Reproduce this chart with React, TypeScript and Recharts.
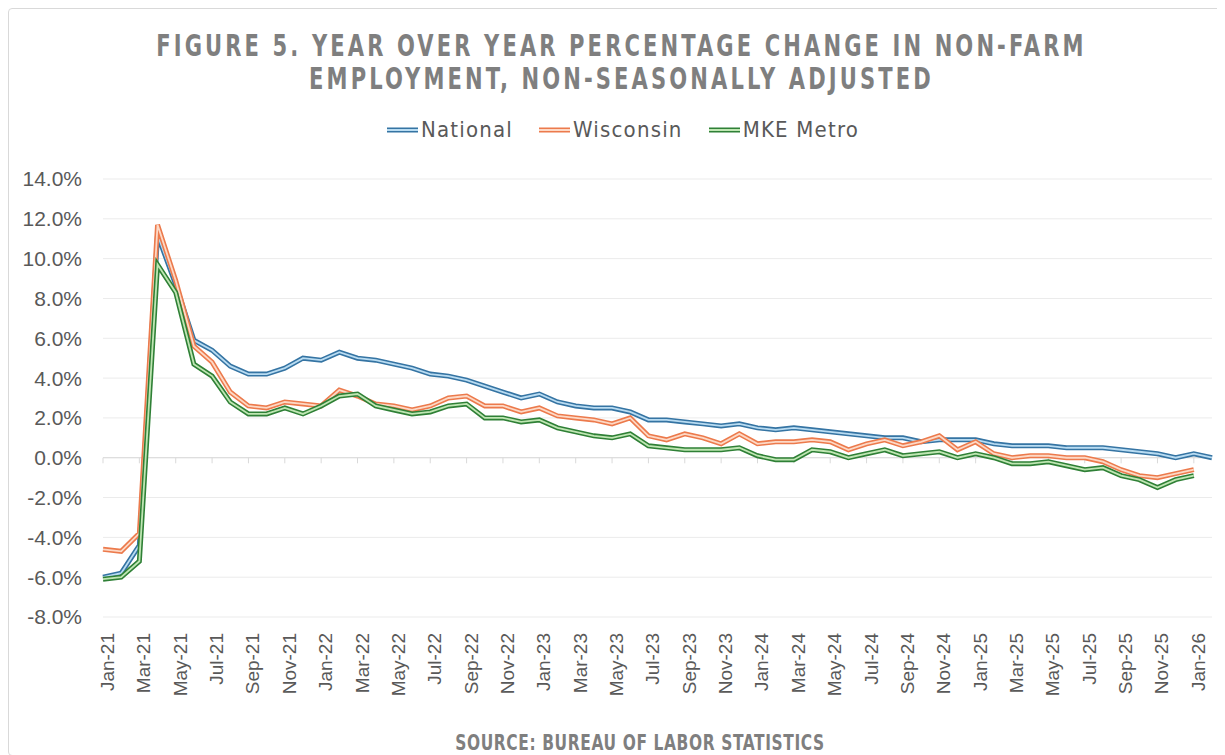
import React from 'react';
import { LineChart, Line, XAxis, YAxis, CartesianGrid, ReferenceLine } from 'recharts';

const months = [
  'Jan-21','Feb-21','Mar-21','Apr-21','May-21','Jun-21','Jul-21','Aug-21','Sep-21','Oct-21','Nov-21','Dec-21',
  'Jan-22','Feb-22','Mar-22','Apr-22','May-22','Jun-22','Jul-22','Aug-22','Sep-22','Oct-22','Nov-22','Dec-22',
  'Jan-23','Feb-23','Mar-23','Apr-23','May-23','Jun-23','Jul-23','Aug-23','Sep-23','Oct-23','Nov-23','Dec-23',
  'Jan-24','Feb-24','Mar-24','Apr-24','May-24','Jun-24','Jul-24','Aug-24','Sep-24','Oct-24','Nov-24','Dec-24',
  'Jan-25','Feb-25','Mar-25','Apr-25','May-25','Jun-25','Jul-25','Aug-25','Sep-25','Oct-25','Nov-25','Dec-25',
  'Jan-26','Feb-26',
];

const national = [
  -6.0, -5.8, -4.4, 11.2, 8.7, 5.9, 5.4, 4.6, 4.2, 4.2, 4.5, 5.0,
  4.9, 5.3, 5.0, 4.9, 4.7, 4.5, 4.2, 4.1, 3.9, 3.6, 3.3, 3.0,
  3.2, 2.8, 2.6, 2.5, 2.5, 2.3, 1.9, 1.9, 1.8, 1.7, 1.6, 1.7,
  1.5, 1.4, 1.5, 1.4, 1.3, 1.2, 1.1, 1.0, 1.0, 0.8, 0.9, 0.9,
  0.9, 0.7, 0.6, 0.6, 0.6, 0.5, 0.5, 0.5, 0.4, 0.3, 0.2, 0.0,
  0.2, 0.0,
];

const wisconsin = [
  -4.6, -4.7, -3.8, 11.7, 8.9, 5.6, 4.8, 3.3, 2.6, 2.5, 2.8, 2.7,
  2.6, 3.4, 3.1, 2.7, 2.6, 2.4, 2.6, 3.0, 3.1, 2.6, 2.6, 2.3,
  2.5, 2.1, 2.0, 1.9, 1.7, 2.0, 1.1, 0.9, 1.2, 1.0, 0.7, 1.2,
  0.7, 0.8, 0.8, 0.9, 0.8, 0.4, 0.7, 0.9, 0.6, 0.8, 1.1, 0.4,
  0.8, 0.2, 0.0, 0.1, 0.1, 0.0, 0.0, -0.2, -0.6, -0.9, -1.0, -0.8,
  -0.6,
];

const mkeMetro = [
  -6.1, -6.0, -5.2, 9.7, 8.3, 4.7, 4.1, 2.8, 2.2, 2.2, 2.5, 2.2,
  2.6, 3.1, 3.2, 2.6, 2.4, 2.2, 2.3, 2.6, 2.7, 2.0, 2.0, 1.8,
  1.9, 1.5, 1.3, 1.1, 1.0, 1.2, 0.6, 0.5, 0.4, 0.4, 0.4, 0.5,
  0.1, -0.1, -0.1, 0.4, 0.3, 0.0, 0.2, 0.4, 0.1, 0.2, 0.3, 0.0,
  0.2, 0.0, -0.3, -0.3, -0.2, -0.4, -0.6, -0.5, -0.9, -1.1, -1.5, -1.1,
  -0.9,
];

const yTicks = [-8, -6, -4, -2, 0, 2, 4, 6, 8, 10, 12, 14];

const seriesList = [
  { key: 'national', name: 'National', color: '#3574a3', inner: '#b9dcf2' },
  { key: 'wisconsin', name: 'Wisconsin', color: '#ec7a4c', inner: '#fdd9c6' },
  { key: 'mke', name: 'MKE Metro', color: '#2f8036', inner: '#bfe6b3' },
];

const data = months.map((m, i) => ({
  month: m,
  national: national[i] ?? null,
  wisconsin: wisconsin[i] ?? null,
  mke: mkeMetro[i] ?? null,
}));

const narrow = '"DejaVu Sans Condensed", "Liberation Sans", sans-serif';
const regular = '"Liberation Sans", Arial, sans-serif';

const XTick = (props: any) => {
  const { x, y, payload } = props;
  return (
    <g transform={`translate(${x},${y})`}>
      <text transform="rotate(-90)" textAnchor="end" dy={11} fill="#595959" fontSize={19} fontFamily={regular}>
        {payload.value}
      </text>
    </g>
  );
};

const fmtPct = (v: number) => `${v.toFixed(1)}%`;

const squeeze: React.CSSProperties = {
  display: 'inline-block',
  transform: 'scaleX(0.78)',
  transformOrigin: 'center',
  whiteSpace: 'nowrap',
};

export default function App() {
  const tickCats = months.filter((_, i) => i % 2 === 0);
  return (
    <div
      style={{
        position: 'relative',
        width: 1218,
        height: 748,
        border: '1px solid #d9d9d9',
        borderRadius: 4,
        boxSizing: 'border-box',
        background: '#fff',
        overflow: 'hidden',
      }}
    >
      <div
        style={{
          position: 'absolute',
          top: 20,
          left: 0,
          width: 1216,
          paddingLeft: 8,
          boxSizing: 'border-box',
          textAlign: 'center',
          fontFamily: narrow,
          fontWeight: 'bold',
          fontSize: 30,
          lineHeight: '33px',
          letterSpacing: 4,
          color: '#7f7f7f',
        }}
      >
        <div><span style={squeeze}>FIGURE 5. YEAR OVER YEAR PERCENTAGE CHANGE IN NON-FARM</span></div>
        <div><span style={squeeze}>EMPLOYMENT, NON-SEASONALLY ADJUSTED</span></div>
      </div>

      <div
        style={{
          position: 'absolute',
          top: 108,
          left: 0,
          width: 1216,
          display: 'flex',
          justifyContent: 'center',
          gap: 26,
          paddingLeft: 12,
          boxSizing: 'border-box',
          fontFamily: narrow,
          fontSize: 22,
          letterSpacing: 1.2,
          color: '#595959',
        }}
      >
        {seriesList.map((s) => (
          <div key={s.key} style={{ display: 'flex', alignItems: 'center', gap: 3 }}>
            <svg width={31} height={10}>
              <line x1={0} y1={5} x2={31} y2={5} stroke={s.color} strokeWidth={5} />
              <line x1={0} y1={5} x2={31} y2={5} stroke={s.inner} strokeWidth={1.8} />
            </svg>
            <span>{s.name}</span>
          </div>
        ))}
      </div>

      <div style={{ position: 'absolute', top: 0, left: 0 }}>
        <LineChart width={1216} height={746} data={data} margin={{ top: 170, right: 13, left: 0, bottom: 38 }}>
          <CartesianGrid vertical={false} stroke="#ebebeb" strokeWidth={1} />
          <XAxis
            dataKey="month"
            interval={1}
            tick={<XTick />}
            tickLine={false}
            axisLine={false}
            tickMargin={10}
            height={100}
          />
          <YAxis
            domain={[-8, 14]}
            ticks={yTicks}
            tickFormatter={fmtPct}
            width={94}
            axisLine={false}
            tickLine={false}
            tickMargin={15}
            tick={{ fill: '#595959', fontSize: 21, fontFamily: regular }}
            interval={0}
          />
          <ReferenceLine y={0} stroke="#d9d9d9" strokeWidth={1} />
          {tickCats.map((c) => (
            <ReferenceLine
              key={c}
              segment={[{ x: c, y: 0 }, { x: c, y: -0.28 }]}
              stroke="#d9d9d9"
              strokeWidth={1}
            />
          ))}
          {seriesList.map((s) => [
            <Line
              key={s.key + '-outer'}
              type="linear"
              dataKey={s.key}
              stroke={s.color}
              strokeWidth={5}
              dot={false}
              activeDot={false}
              isAnimationActive={false}
              connectNulls={false}
            />,
            <Line
              key={s.key + '-inner'}
              type="linear"
              dataKey={s.key}
              stroke={s.inner}
              strokeWidth={1.8}
              dot={false}
              activeDot={false}
              legendType="none"
              isAnimationActive={false}
              connectNulls={false}
            />,
          ])}
        </LineChart>
      </div>

      <div
        style={{
          position: 'absolute',
          top: 721,
          left: 0,
          width: 1216,
          textAlign: 'center',
          paddingLeft: 46,
          boxSizing: 'border-box',
          fontFamily: narrow,
          fontWeight: 'bold',
          fontSize: 22,
          letterSpacing: 0.8,
          color: '#7f7f7f',
        }}
      >
        <span style={squeeze}>SOURCE: BUREAU OF LABOR STATISTICS</span>
      </div>
    </div>
  );
}
